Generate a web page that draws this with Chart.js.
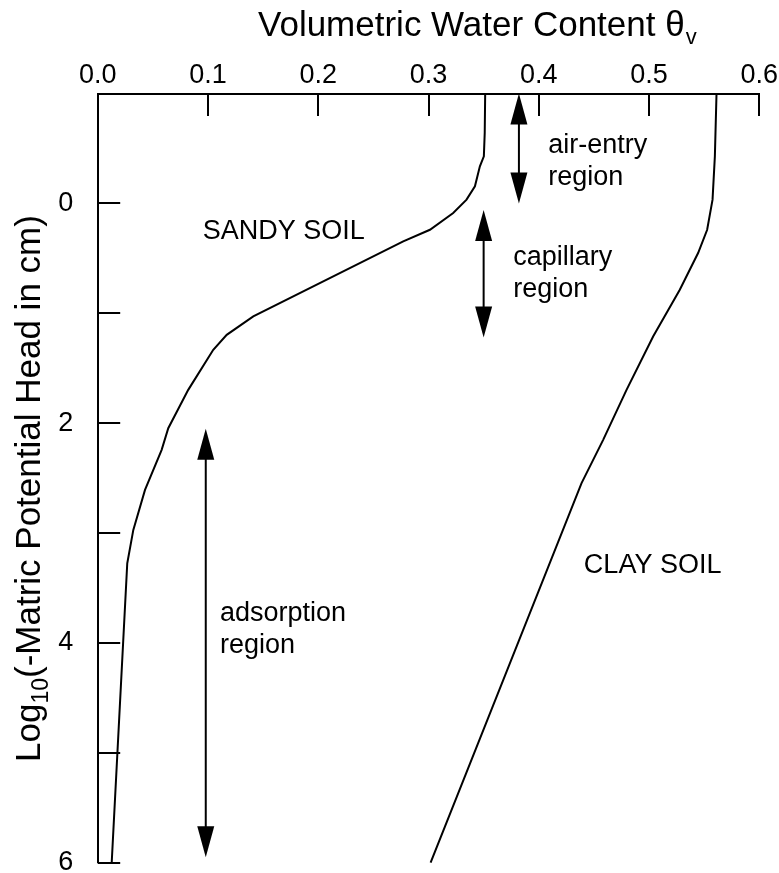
<!DOCTYPE html>
<html>
<head>
<meta charset="utf-8">
<title>Soil water retention curves</title>
<script src="https://cdn.jsdelivr.net/npm/chart.js@4/dist/chart.umd.min.js"></script>
<style>
  html, body { margin: 0; padding: 0; background: #ffffff; }
  canvas { display: block; }
</style>
</head>
<body>
<canvas id="chart" width="779" height="873"></canvas>
<script>
// Retention curves: volumetric water content vs log10 of suction head (cm)
const sandyTheta = [0.3514, 0.3510, 0.3502, 0.3466, 0.3421, 0.3345, 0.3224, 0.3013, 0.2771, 0.1411, 0.1170, 0.1048, 0.0821, 0.0640, 0.0580, 0.0429, 0.0323, 0.0268, 0.0127];
const sandyLogH  = [-1.00, -0.644, -0.428, -0.337, -0.155, -0.034, 0.087, 0.240, 0.346, 1.029, 1.196, 1.332, 1.697, 2.046, 2.243, 2.607, 2.971, 3.275, 6.00];

const clayTheta = [0.5612, 0.5597, 0.5576, 0.5527, 0.5445, 0.5279, 0.5037, 0.4796, 0.4584, 0.4388, 0.3019];
const clayLogH  = [-1.00, -0.428, -0.034, 0.240, 0.452, 0.786, 1.211, 1.697, 2.152, 2.546, 6.00];

// Axis tick labels
const thetaTickLabels = ['0.0', '0.1', '0.2', '0.3', '0.4', '0.5', '0.6'];
const headTickLabels = { '0': '0', '2': '2', '4': '4', '6': '6' };

// Moisture regions marked with double-headed arrows (theta, head range)
const regionNames = ['air-entry', 'capillary', 'adsorption'];
const regionTheta = [0.382, 0.350, 0.098];
const regionFrom  = [-1.00, 0.06, 2.05];
const regionTo    = [0.00, 1.22, 5.95];

// Text placement for the annotations (data coordinates of the first baseline)
const FONT = '"Liberation Sans", Arial, Helvetica, sans-serif';
const regionLabelAt = [
  { x: 0.4086, y: -0.456 },
  { x: 0.3768, y: 0.558 },
  { x: 0.1109, y: 3.80 }
];
const soilLabels = [
  { text: 'SANDY SOIL', x: 0.0952, y: 0.324 },
  { text: 'CLAY SOIL', x: 0.4409, y: 3.361 }
];

const toPoints = (xs, ys) => xs.map((v, i) => ({ x: v, y: ys[i] }));

// Inward-pointing tick marks on both axes
const innerTicks = {
  id: 'innerTicks',
  afterDatasetsDraw(chart) {
    const { ctx, chartArea, scales } = chart;
    const len = 22.5;
    ctx.save();
    ctx.strokeStyle = '#000';
    ctx.lineWidth = 2;
    ctx.beginPath();
    scales.x.ticks.forEach(t => {
      if (Math.abs(t.value) < 1e-9) return;
      const px = Math.round(scales.x.getPixelForValue(t.value));
      ctx.moveTo(px, chartArea.top);
      ctx.lineTo(px, chartArea.top + len);
    });
    scales.y.ticks.forEach(t => {
      if (t.value <= -1) return;
      const py = Math.round(scales.y.getPixelForValue(t.value));
      ctx.moveTo(chartArea.left, py);
      ctx.lineTo(chartArea.left + len, py);
    });
    ctx.stroke();
    ctx.restore();
  }
};

function arrowHead(ctx, x, tipY, dir, len, half) {
  ctx.beginPath();
  ctx.moveTo(x, tipY);
  ctx.lineTo(x - half, tipY + dir * len);
  ctx.lineTo(x + half, tipY + dir * len);
  ctx.closePath();
  ctx.fill();
}

// Region arrows, region labels, soil labels and axis titles
const annotations = {
  id: 'annotations',
  afterDraw(chart) {
    const { ctx, scales } = chart;
    const xs = scales.x, ys = scales.y;
    ctx.save();
    ctx.fillStyle = '#000';
    ctx.strokeStyle = '#000';

    regionNames.forEach((name, i) => {
      const px = xs.getPixelForValue(regionTheta[i]);
      const y1 = ys.getPixelForValue(regionFrom[i]);
      const y2 = ys.getPixelForValue(regionTo[i]);
      ctx.lineWidth = 2;
      ctx.beginPath();
      ctx.moveTo(px, y1 + 20);
      ctx.lineTo(px, y2 - 20);
      ctx.stroke();
      arrowHead(ctx, px, y1, 1, 31, 8.5);
      arrowHead(ctx, px, y2, -1, 31, 8.5);

      ctx.font = '27px ' + FONT;
      ctx.textAlign = 'left';
      ctx.textBaseline = 'alphabetic';
      const lx = xs.getPixelForValue(regionLabelAt[i].x);
      const ly = ys.getPixelForValue(regionLabelAt[i].y);
      ctx.fillText(name, lx, ly);
      ctx.fillText('region', lx, ly + 32);
    });

    ctx.font = '27px ' + FONT;
    soilLabels.forEach(l => {
      ctx.fillText(l.text, xs.getPixelForValue(l.x), ys.getPixelForValue(l.y));
    });

    // Top title: Volumetric Water Content θv
    ctx.font = '35px ' + FONT;
    const t = 'Volumetric Water Content \u03B8';
    ctx.fillText(t, 258, 36);
    const tw = ctx.measureText(t).width;
    ctx.font = '22px ' + FONT;
    ctx.fillText('v', 258 + tw + 1, 44);

    // Left title: Log10(-Matric Potential Head in cm)
    ctx.translate(40, 762);
    ctx.rotate(-Math.PI / 2);
    ctx.font = '35px ' + FONT;
    ctx.fillText('Log', 0, 0);
    let w = ctx.measureText('Log').width;
    ctx.font = '23px ' + FONT;
    ctx.fillText('10', w, 8);
    w += ctx.measureText('10').width;
    ctx.font = '35px ' + FONT;
    ctx.fillText('(-Matric Potential Head in cm)', w, 0);
    ctx.restore();
  }
};

Chart.defaults.font.family = FONT;
Chart.defaults.color = '#000';

new Chart(document.getElementById('chart'), {
  type: 'scatter',
  data: {
    datasets: [
      {
        label: 'Sandy soil',
        data: toPoints(sandyTheta, sandyLogH),
        showLine: true,
        borderColor: '#000',
        borderWidth: 2,
        pointRadius: 0,
        tension: 0,
        clip: false
      },
      {
        label: 'Clay soil',
        data: toPoints(clayTheta, clayLogH),
        showLine: true,
        borderColor: '#000',
        borderWidth: 2,
        pointRadius: 0,
        tension: 0,
        clip: false
      }
    ]
  },
  options: {
    responsive: false,
    animation: false,
    devicePixelRatio: 1,
    layout: { padding: { left: 0, top: 0, right: 19.7, bottom: 10.3 } },
    plugins: {
      legend: { display: false },
      tooltip: { enabled: false },
      title: { display: false }
    },
    scales: {
      x: {
        type: 'linear',
        position: 'top',
        min: 0,
        max: 0.6,
        afterFit(scale) {
          scale.height = 93.5;
          scale.paddingLeft = 0;
          scale.paddingRight = 0;
        },
        grid: { display: false, drawTicks: false },
        border: { display: true, color: '#000', width: 2 },
        ticks: {
          stepSize: 0.1,
          padding: 2,
          font: { size: 27 },
          maxRotation: 0,
          autoSkip: false,
          callback: (v, i) => thetaTickLabels[i]
        }
      },
      y: {
        type: 'linear',
        position: 'left',
        reverse: true,
        min: -1,
        max: 6,
        afterFit(scale) {
          scale.width = 97.7;
          scale.paddingTop = 0;
          scale.paddingBottom = 0;
        },
        grid: { display: false, drawTicks: false },
        border: { display: true, color: '#000', width: 2 },
        ticks: {
          stepSize: 1,
          padding: 24.5,
          font: { size: 27 },
          autoSkip: false,
          callback: v => headTickLabels[String(v)] || ''
        }
      }
    }
  },
  plugins: [innerTicks, annotations]
});
</script>
</body>
</html>
